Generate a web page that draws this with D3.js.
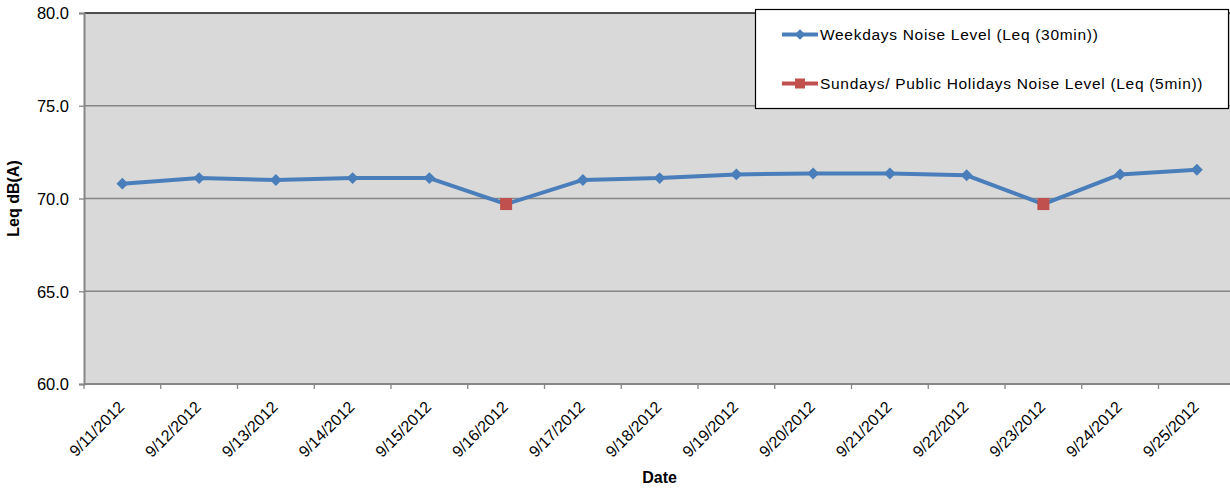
<!DOCTYPE html>
<html>
<head>
<meta charset="utf-8">
<script src="https://cdn.jsdelivr.net/npm/d3@7"></script>
<style>
  html, body { margin: 0; padding: 0; background: #fff; }
  svg { display: block; font-family: "Liberation Sans", Arial, sans-serif; }
</style>
</head>
<body>
<svg id="chart" width="1230" height="488"></svg>
<script>
// Daily noise readings, 11–25 September 2012
const dates = ["9/11/2012", "9/12/2012", "9/13/2012", "9/14/2012", "9/15/2012",
  "9/16/2012", "9/17/2012", "9/18/2012", "9/19/2012", "9/20/2012",
  "9/21/2012", "9/22/2012", "9/23/2012", "9/24/2012", "9/25/2012"];

// Leq readings used for the connecting line (every day)
const weekdayLevels = [70.8, 71.1, 71.0, 71.1, 71.1, 69.7, 71.0, 71.1,
  71.3, 71.35, 71.35, 71.25, 69.7, 71.3, 71.55];

// Sundays / public holidays (5-min Leq); null on ordinary days
const holidayLevels = [null, null, null, null, null, 69.7, null, null,
  null, null, null, null, 69.7, null, null];

const yTicks = [60, 65, 70, 75, 80];

const seriesNames = ["Weekdays Noise Level (Leq (30min))",
  "Sundays/ Public Holidays Noise Level (Leq (5min))"];
const seriesColors = ["#4a7ebb", "#c0504d"];

const svg = d3.select("#chart");
const plot = { left: 84, top: 13, right: 1235.25, bottom: 384 };

const x = d3.scaleBand().domain(dates).range([plot.left, plot.right]);
const y = d3.scaleLinear().domain([60, 80]).range([plot.bottom, plot.top]);

// plot background
svg.append("rect")
  .attr("x", plot.left).attr("y", plot.top)
  .attr("width", plot.right - plot.left).attr("height", plot.bottom - plot.top)
  .attr("fill", "#d9d9d9");

// horizontal gridlines
svg.append("g").selectAll("line").data(yTicks.filter(d => d > 60 && d < 80)).join("line")
  .attr("x1", plot.left).attr("x2", plot.right)
  .attr("y1", d => y(d)).attr("y2", d => y(d))
  .attr("stroke", "#868686").attr("stroke-width", 1.3);

// top border
svg.append("line")
  .attr("x1", plot.left).attr("x2", plot.right)
  .attr("y1", plot.top).attr("y2", plot.top)
  .attr("stroke", "#1a1a1a").attr("stroke-width", 1.3);

// y axis
const yAxis = d3.axisLeft(y).tickValues(yTicks).tickFormat(d3.format(".1f")).tickSize(5).tickPadding(10);
const gy = svg.append("g").attr("transform", `translate(${plot.left},0)`).call(yAxis);
gy.select(".domain").attr("stroke", "#868686").attr("stroke-width", 2);
gy.selectAll(".tick line").attr("stroke", "#868686").attr("stroke-width", 1.3);
gy.selectAll(".tick text").attr("font-size", "16.5px").attr("fill", "#000")
  .attr("font-family", "Liberation Sans, Arial, sans-serif").attr("dy", "0.36em");

// x axis: ticks on category boundaries
const boundaries = dates.map(d => x(d)).concat([plot.right]);
const gx = svg.append("g");
gx.append("line")
  .attr("x1", plot.left).attr("x2", plot.right)
  .attr("y1", plot.bottom).attr("y2", plot.bottom)
  .attr("stroke", "#868686").attr("stroke-width", 2);
gx.selectAll("line.tick").data(boundaries).join("line").attr("class", "tick")
  .attr("x1", d => d).attr("x2", d => d)
  .attr("y1", plot.bottom).attr("y2", plot.bottom + 5)
  .attr("stroke", "#868686").attr("stroke-width", 1.3);
gx.selectAll("text").data(dates).join("text")
  .attr("transform", d => `translate(${x(d) + x.bandwidth() / 2 + 3},${plot.bottom + 24}) rotate(-45)`)
  .attr("text-anchor", "end")
  .attr("font-size", "16px")
  .attr("fill", "#000")
  .text(d => d);

// axis titles
svg.append("text")
  .attr("x", (plot.left + plot.right) / 2).attr("y", 482.5)
  .attr("text-anchor", "middle").attr("font-size", "16px").attr("font-weight", "bold")
  .text("Date");
svg.append("text")
  .attr("transform", `translate(18.5,${(plot.top + plot.bottom) / 2}) rotate(-90)`)
  .attr("text-anchor", "middle").attr("font-size", "16px").attr("font-weight", "bold")
  .text("Leq dB(A)");

// series line
const cx = d => x(d) + x.bandwidth() / 2;
const line = d3.line().x((d, i) => cx(dates[i])).y(d => y(d));
svg.append("path")
  .attr("d", line(weekdayLevels))
  .attr("fill", "none")
  .attr("stroke", seriesColors[0])
  .attr("stroke-width", 4)
  .attr("stroke-linejoin", "round");

// diamond markers on ordinary days
const diamond = d3.symbol().type(d3.symbolDiamond2).size(90);
svg.append("g").selectAll("path")
  .data(weekdayLevels.map((v, i) => ({ v, i })).filter(d => holidayLevels[d.i] === null))
  .join("path")
  .attr("d", diamond)
  .attr("transform", d => `translate(${cx(dates[d.i])},${y(d.v)})`)
  .attr("fill", seriesColors[0]);

// square markers on Sundays / public holidays
const sq = 12;
svg.append("g").selectAll("rect")
  .data(holidayLevels.map((v, i) => ({ v, i })).filter(d => d.v !== null))
  .join("rect")
  .attr("x", d => cx(dates[d.i]) - sq / 2)
  .attr("y", d => y(d.v) - sq / 2)
  .attr("width", sq).attr("height", sq)
  .attr("fill", seriesColors[1]);

// legend
const legend = svg.append("g");
legend.append("rect")
  .attr("x", 755.5).attr("y", 9.5)
  .attr("width", 473).attr("height", 99)
  .attr("fill", "#fff").attr("stroke", "#000").attr("stroke-width", 1.2);
const rows = [34.5, 83.5];
rows.forEach((ry, k) => {
  legend.append("line")
    .attr("x1", 782).attr("x2", 818).attr("y1", ry).attr("y2", ry)
    .attr("stroke", seriesColors[k]).attr("stroke-width", 4);
  if (k === 0) {
    legend.append("path")
      .attr("d", d3.symbol().type(d3.symbolDiamond2).size(70)())
      .attr("transform", `translate(800,${ry})`)
      .attr("fill", seriesColors[0]);
  } else {
    legend.append("rect")
      .attr("x", 795).attr("y", ry - 5).attr("width", 10).attr("height", 10)
      .attr("fill", seriesColors[1]);
  }
  legend.append("text")
    .attr("x", 820).attr("y", ry + 5.5)
    .attr("font-size", "15.5px")
    .attr("letter-spacing", "0.7px")
    .attr("fill", "#000")
    .text(seriesNames[k]);
});
</script>
</body>
</html>
